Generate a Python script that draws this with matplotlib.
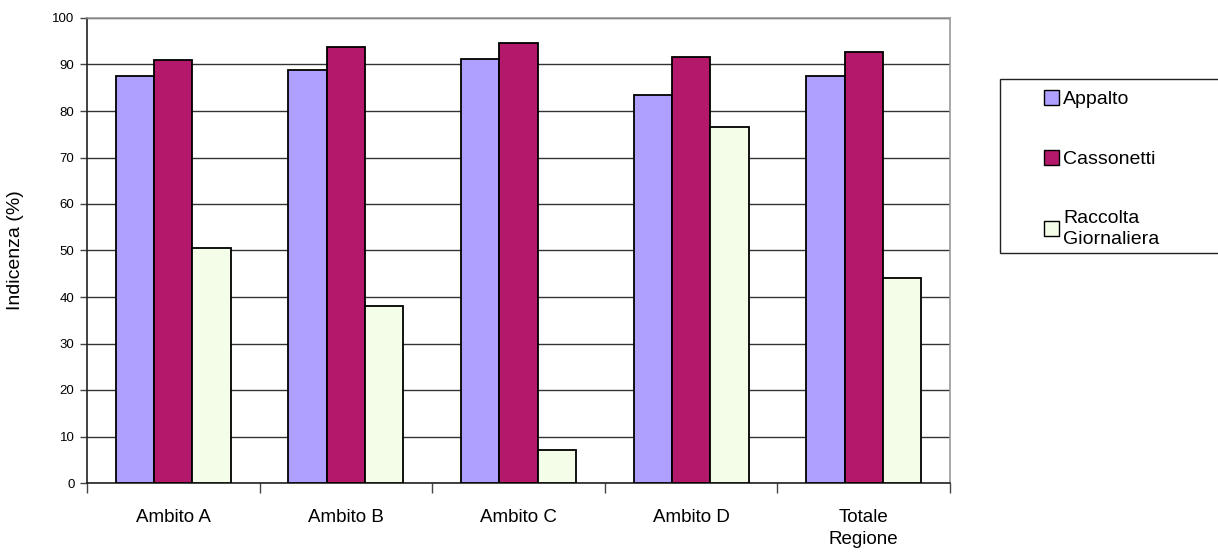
import numpy as np
import matplotlib.pyplot as plt
from matplotlib.patches import Rectangle

plt.rcParams['font.family'] = ['Liberation Sans', 'DejaVu Sans']

categories = ['Ambito A', 'Ambito B', 'Ambito C', 'Ambito D', 'Totale\nRegione']
appalto = [87.5, 88.8, 91.2, 83.4, 87.5]
cassonetti = [91.0, 93.7, 94.6, 91.7, 92.7]
raccolta = [50.5, 38.1, 7.0, 76.6, 44.1]

series = ['Appalto', 'Cassonetti', 'Raccolta\nGiornaliera']
colors = ['#AFA0FF', '#B4186A', '#F4FDE8']

fig = plt.figure(figsize=(12.18, 5.58), dpi=100)
ax = fig.add_axes([87 / 1218, 75 / 558, 863 / 1218, 465 / 558])

x = np.arange(len(categories))
w = 1 / 4.5  # excel style gap width 150%
for i, (vals, lab, col) in enumerate(zip([appalto, cassonetti, raccolta], series, colors)):
    ax.bar(x + (i - 1) * w, vals, w, color=col, edgecolor='black', linewidth=1.3,
           label=lab, zorder=3)

ax.set_xlim(-0.5, len(categories) - 0.5)
ax.set_ylim(0, 100)
ax.set_yticks(np.arange(0, 101, 10))
ax.yaxis.grid(True, color='#333333', linewidth=1.0, zorder=0)
ax.tick_params(axis='y', labelsize=9.5, length=5, width=1, color='#444444', pad=4)

ax.set_xticks(x)
ax.set_xticklabels(categories, fontsize=13.5, linespacing=1.35)
ax.set_xticks(np.arange(-0.5, len(categories)), minor=True)
ax.tick_params(axis='x', which='major', length=0, pad=19)
ax.tick_params(axis='x', which='minor', length=7, width=1, color='#444444')

for s in ['left', 'bottom']:
    ax.spines[s].set_color('#222222')
    ax.spines[s].set_linewidth(1.2)
for s in ['top', 'right']:
    ax.spines[s].set_color('#999999')
    ax.spines[s].set_linewidth(1.2)

ax.set_ylabel('Indicenza (%)', fontsize=14, labelpad=20)

# legend frame runs past the right edge
fig.patches.append(Rectangle((1000 / 1218, 1 - 253 / 558), 0.3, 174 / 558,
                             transform=fig.transFigure, facecolor='white',
                             edgecolor='#222222', linewidth=1.0))
handles, labels = ax.get_legend_handles_labels()
leg = fig.legend(handles, labels, loc='upper left', bbox_to_anchor=(1034 / 1218, 1 - 80 / 558),
                 frameon=False, fontsize=14, handlelength=0.8, handleheight=0.8,
                 handletextpad=0.2, labelspacing=2.15, borderpad=0)
for t in leg.get_texts():
    t.set_linespacing(1.35)
for p in leg.get_patches():
    p.set_linewidth(1.0)

fig.savefig('out.png', dpi=100)
